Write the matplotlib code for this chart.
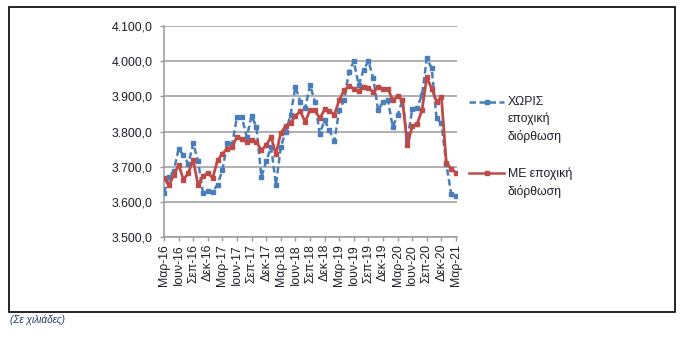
import numpy as np
import matplotlib
matplotlib.use('Agg')
import matplotlib.pyplot as plt
from matplotlib.lines import Line2D
from matplotlib.patches import Rectangle
from matplotlib.ticker import FuncFormatter

## monthly values, Mar-16 .. Mar-21 (thousands)
without_sa = [3625, 3671, 3688, 3750, 3733, 3708, 3766, 3716, 3625, 3630,
              3628, 3649, 3690, 3766, 3764, 3842, 3840, 3785, 3845, 3812,
              3671, 3715, 3756, 3649, 3756, 3800, 3847, 3927, 3885, 3866,
              3932, 3885, 3794, 3832, 3803, 3773, 3860, 3889, 3970, 4000,
              3932, 3975, 4001, 3951, 3860, 3885, 3889, 3813, 3847, 3889,
              3775, 3864, 3868, 3903, 4008, 3980, 3837, 3823, 3708, 3623,
              3617]
with_sa = [3668, 3647, 3675, 3706, 3663, 3682, 3720, 3647, 3673, 3682,
           3668, 3718, 3737, 3751, 3756, 3785, 3780, 3770, 3775, 3770,
           3747, 3761, 3785, 3735, 3796, 3815, 3825, 3844, 3858, 3827,
           3861, 3861, 3837, 3863, 3858, 3848, 3889, 3917, 3929, 3922,
           3916, 3927, 3925, 3911, 3927, 3922, 3922, 3889, 3901, 3889,
           3761, 3815, 3821, 3861, 3954, 3922, 3885, 3897, 3711, 3694,
           3683]
quarter_names = ['Μαρ', 'Ιουν', 'Σεπ', 'Δεκ']
years = [16, 17, 18, 19, 20, 21]
legend_labels = ['ΧΩΡΙΣ\nεποχική\nδιόρθωση', 'ΜΕ εποχική\nδιόρθωση']
footnote = '(Σε χιλιάδες)'

blue = '#4a7ebb'
red = '#be4b48'
grid_col = '#9a9a9a'
txt_col = '#1e1e28'

plt.rcParams['font.family'] = ['Liberation Sans', 'DejaVu Sans']

fig = plt.figure(figsize=(6.81, 3.38), dpi=100)
ax = fig.add_axes([164/681, 1 - 237/338, (457 - 164)/681, (237 - 26)/338])

x = np.arange(len(without_sa))
ax.plot(x, without_sa, color=blue, lw=1.8, dashes=(2.6, 1.4),
        marker='s', ms=2.8, mec=blue, mfc=blue, zorder=3)
ax.plot(x, with_sa, color=red, lw=2.0, marker='s', ms=2.8,
        mec=red, mfc=red, zorder=4)

ax.set_ylim(3500, 4100)
ax.set_yticks(np.arange(3500, 4101, 100))
ax.yaxis.set_major_formatter(FuncFormatter(
    lambda v, p: '{:,.1f}'.format(v).replace(',', 'X').replace('.', ',').replace('X', '.')))
ax.grid(axis='y', color=grid_col, lw=1.1)
ax.set_axisbelow(True)

tick_pos = np.arange(0, len(x), 3)
tick_lab = ['{}-{}'.format(quarter_names[k % 4], years[k // 4])
            for k in range(len(tick_pos))]
ax.set_xticks(tick_pos)
ax.set_xticklabels(tick_lab, rotation=90)
ax.set_xlim(0, 60.2)

for s in ['top', 'right']:
    ax.spines[s].set_visible(False)
for s in ['left', 'bottom']:
    ax.spines[s].set_color(grid_col)
    ax.spines[s].set_linewidth(1.1)
ax.tick_params(axis='both', colors=grid_col, labelcolor=txt_col,
               labelsize=8.8, length=3, width=1)
ax.tick_params(axis='y', pad=5)
ax.tick_params(axis='x', pad=2)

## legend drawn by hand so the marker sits on the first text line
def legendEntry(ypix, color, dashed, label):
    yf = 1 - ypix/338
    kw = dict(dashes=(2.6, 1.4)) if dashed else {}
    fig.add_artist(Line2D([469/681, 504/681], [yf, yf], color=color, lw=1.8,
                          transform=fig.transFigure, **kw))
    fig.add_artist(Line2D([486.5/681], [yf], color=color, marker='s', ms=2.8,
                          transform=fig.transFigure))
    fig.text(508/681, yf + 6/338, label, ha='left', va='top', fontsize=8.8,
             color=txt_col, linespacing=1.5)

legendEntry(102, blue, True, legend_labels[0])
legendEntry(173, red, False, legend_labels[1])

## outer frame and footnote
fig.add_artist(Rectangle((8.5/681, 1 - 312/338), (675 - 8.5)/681, (312 - 7)/338,
                         fill=False, ec='black', lw=1.2, transform=fig.transFigure))
fig.text(10/681, 1 - 320/338, footnote, ha='left', va='center', fontsize=7.2,
         style='italic', color='#1f3864')

fig.savefig('out.png', dpi=100)
